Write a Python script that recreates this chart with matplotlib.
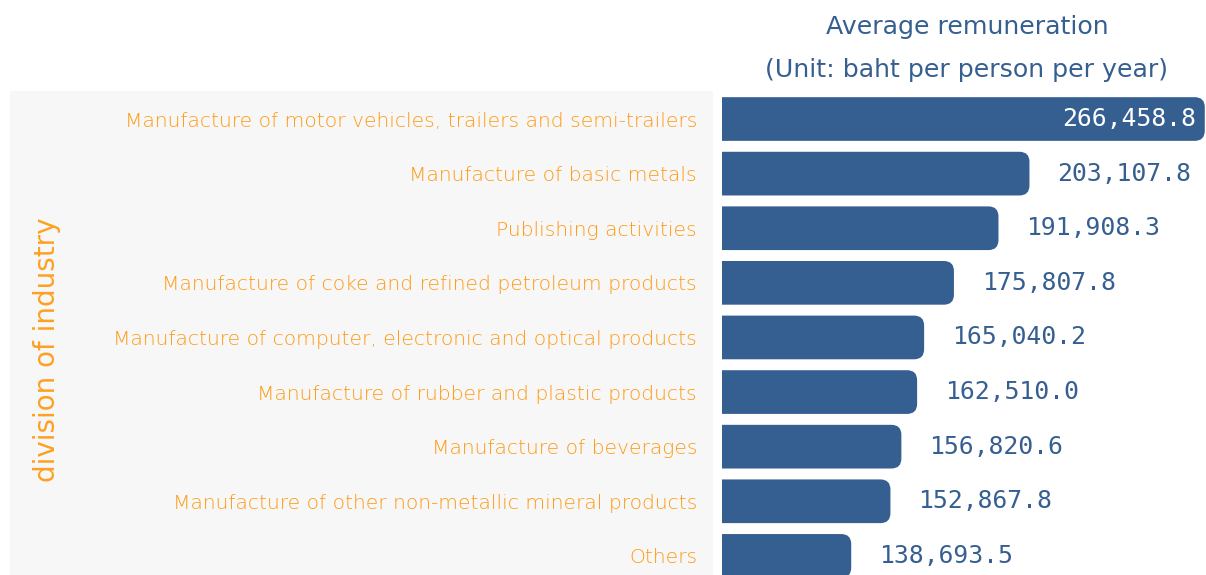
import matplotlib.pyplot as plt
from matplotlib.patches import FancyBboxPatch, Rectangle

categories = [
    "Manufacture of motor vehicles, trailers and semi-trailers",
    "Manufacture of basic metals",
    "Publishing activities",
    "Manufacture of coke and refined petroleum products",
    "Manufacture of computer, electronic and optical products",
    "Manufacture of rubber and plastic products",
    "Manufacture of beverages",
    "Manufacture of other non-metallic mineral products",
    "Others",
]
remuneration = [266458.8, 203107.8, 191908.3, 175807.8, 165040.2,
                162510.0, 156820.6, 152867.8, 138693.5]

bar_color = "#365f91"
label_color = "#ff9a12"
W, H = 1206, 575

fig = plt.figure(figsize=(W / 100, H / 100), dpi=100)

# gray panel behind the category labels
fig.patches.append(Rectangle((10 / W, 0), (713 - 10) / W, (H - 91) / H,
                             transform=fig.transFigure, facecolor="#f7f7f7",
                             edgecolor="none", zorder=-5))

ax = fig.add_axes([722 / W, 0, 1 - 722 / W, (H - 91) / H])
ax.set_facecolor("none")

xmin, xmax = 92000, 266900
ax.set_xlim(xmin, xmax)
ax.set_ylim(8.35, -0.513)

# px -> data unit conversions for rounded corners
x_per_px = (xmax - xmin) / (W - 722)
y_per_px = (8.35 + 0.513) / (H - 91)
radius_px = 10

ypos = list(range(len(categories)))
bars = ax.barh(ypos, remuneration, height=0.8, left=0, color="none")
for rect, v in zip(bars, remuneration):
    rect.set_visible(False)
    y0 = rect.get_y()
    h = rect.get_height()
    start = xmin - 30 * x_per_px
    p = FancyBboxPatch((start, y0), v - start, h,
                       boxstyle=f"round,pad=0,rounding_size={radius_px * x_per_px}",
                       mutation_aspect=y_per_px / x_per_px,
                       facecolor=bar_color, edgecolor="none", clip_on=True)
    ax.add_patch(p)

for i, v in enumerate(remuneration):
    txt = f"{v:,.1f}"
    if i == 0:
        ax.annotate(txt, (v, i), xytext=(-6, 0), textcoords="offset points",
                    ha="right", va="center", color="white", fontsize=17.8,
                    family="DejaVu Sans Mono")
    else:
        ax.annotate(txt, (v, i), xytext=(20, 0), textcoords="offset points",
                    ha="left", va="center", color=bar_color, fontsize=17.8,
                    family="DejaVu Sans Mono")

ax.set_yticks(ypos)
ax.set_yticklabels(categories, color=label_color, fontsize=14.6,
                   family="DejaVu Sans", fontweight="light")
ax.tick_params(axis="y", length=0, pad=18)
ax.set_xticks([])
for s in ax.spines.values():
    s.set_visible(False)

fig.text(47 / W, 1 - 350 / H, "division of industry", rotation=90,
         ha="center", va="center", color="#ffa020", fontsize=20,
         family="DejaVu Sans")

fig.text(967 / W, 1 - 27 / H, "Average remuneration", ha="center", va="center",
         color=bar_color, fontsize=18.2, family="DejaVu Sans")
fig.text(967 / W, 1 - 70 / H, "(Unit: baht per person per year)", ha="center",
         va="center", color=bar_color, fontsize=18.2, family="DejaVu Sans")

fig.savefig("out.png", dpi=100)
